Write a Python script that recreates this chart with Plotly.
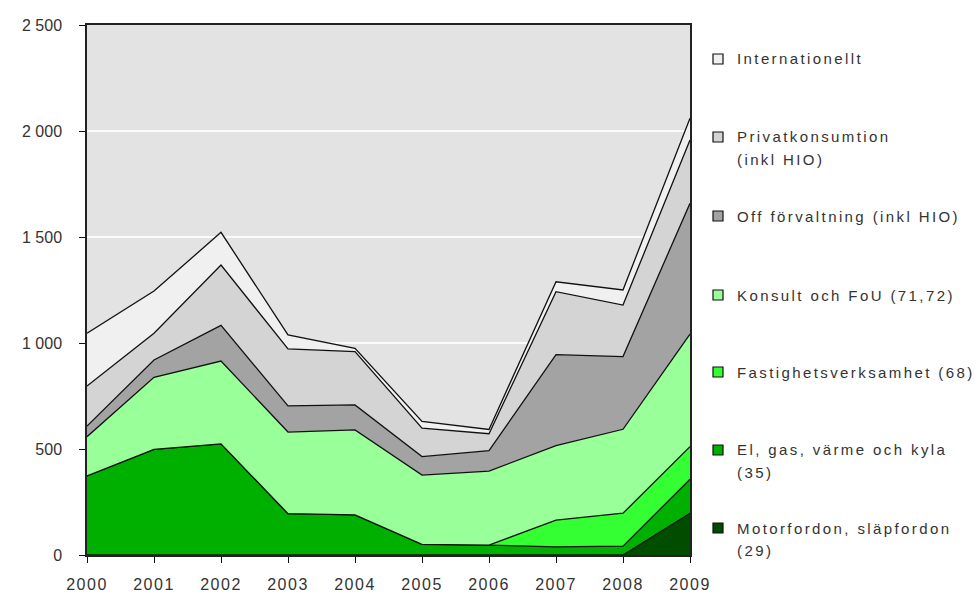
import plotly.graph_objects as go

# Years on the x axis
years = [2000, 2001, 2002, 2003, 2004, 2005, 2006, 2007, 2008, 2009]

# Series values (stacked bottom to top)
motorfordon = [0, 0, 0, 0, 0, 0, 0, 0, 0, 197]
el_gas = [373, 498, 524, 195, 189, 50, 47, 38, 42, 160]
fastighet = [0, 0, 0, 0, 0, 0, 0, 127, 155, 154]
konsult = [185, 340, 391, 385, 401, 327, 349, 351, 396, 531]
off_forvaltning = [50, 82, 168, 123, 118, 87, 96, 429, 343, 617]
privatkonsumtion = [189, 126, 285, 269, 251, 134, 80, 297, 243, 299]
internationellt = [249, 199, 154, 66, 16, 32, 20, 47, 71, 102]

# Legend labels (one list entry per line of text)
label_motor = ["Motorfordon, släpfordon", "(29)"]
label_el = ["El, gas, värme och kyla", "(35)"]
label_fast = ["Fastighetsverksamhet (68)"]
label_konsult = ["Konsult och FoU (71,72)"]
label_off = ["Off förvaltning (inkl HIO)"]
label_privat = ["Privatkonsumtion", "(inkl HIO)"]
label_intl = ["Internationellt"]

# Y tick values
y_ticks = [0, 500, 1000, 1500, 2000, 2500]

series = [
    (label_motor, motorfordon, "#004d00"),
    (label_el, el_gas, "#00b000"),
    (label_fast, fastighet, "#33ff33"),
    (label_konsult, konsult, "#99ff99"),
    (label_off, off_forvaltning, "#a3a3a3"),
    (label_privat, privatkonsumtion, "#d4d4d4"),
    (label_intl, internationellt, "#f0f0f0"),
]

fig = go.Figure()
for label, vals, color in series:
    fig.add_trace(go.Scatter(
        x=years, y=vals, name=" ".join(label),
        mode="lines", stackgroup="one",
        line=dict(color="#111111", width=1.3),
        fillcolor=color, showlegend=False,
    ))

W, H = 975, 601
L, R, T, B = 87, 285, 25, 46
plot_w = W - L - R
plot_h = H - T - B

def px_x(px):
    return (px - L) / plot_w

def px_y(py):
    return (H - B - py) / plot_h

font_family = "Liberation Sans, Arial, sans-serif"
text_color = "#333333"

# Hand-drawn legend on the right, top entry first
legend_rows = [59, 137, 216, 295, 372, 450, 528]
line_gap = 22
shapes = []
annotations = []
for (label, _vals, color), row_y in zip(reversed(series), legend_rows):
    shapes.append(dict(
        type="rect", xref="paper", yref="paper",
        x0=px_x(713), x1=px_x(723), y0=px_y(row_y + 5), y1=px_y(row_y - 5),
        fillcolor=color, line=dict(color="#111111", width=1.2),
    ))
    for k, line_text in enumerate(label):
        annotations.append(dict(
            xref="paper", yref="paper",
            x=px_x(735), y=px_y(row_y + k * line_gap),
            xanchor="left", yanchor="middle", showarrow=False,
            text=f'<span style="letter-spacing:2.4px">{line_text}</span>',
            font=dict(family=font_family, size=15, color=text_color),
        ))

fig.update_layout(
    width=W, height=H,
    margin=dict(l=L, r=R, t=T, b=B, pad=0, autoexpand=False),
    paper_bgcolor="white",
    plot_bgcolor="#e3e3e3",
    separators=", ",
    shapes=shapes,
    annotations=annotations,
    xaxis=dict(
        range=[years[0], years[-1]],
        tickvals=years,
        ticktext=[f'<span style="letter-spacing:1.5px">{y}</span>' for y in years],
        ticks="outside", ticklen=6, tickcolor="#111111",
        showgrid=False, zeroline=False, automargin=False,
        showline=True, linecolor="#222222", linewidth=1.5, mirror=True,
        tickfont=dict(family=font_family, size=16, color=text_color),
        ticklabelstandoff=8,
    ),
    yaxis=dict(
        range=[0, 2500],
        tickvals=y_ticks,
        tickformat=",d",
        ticks="outside", ticklen=6, tickcolor="#111111",
        showgrid=True, gridcolor="#fafafa", gridwidth=1.5,
        zeroline=False, automargin=False,
        showline=True, linecolor="#222222", linewidth=1.5, mirror=True,
        tickfont=dict(family=font_family, size=16, color=text_color),
        ticklabelstandoff=14,
    ),
)

fig.write_html("out.html")
